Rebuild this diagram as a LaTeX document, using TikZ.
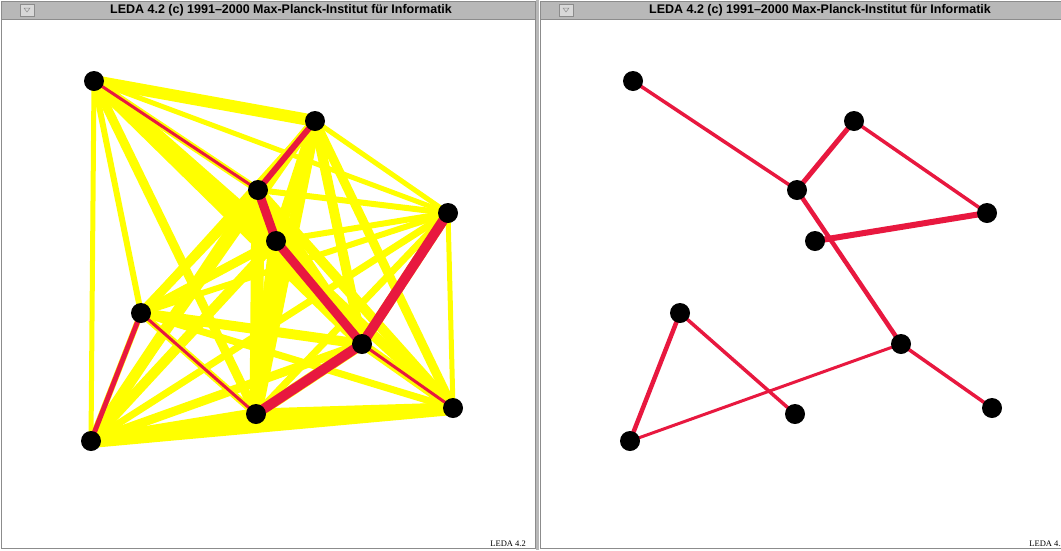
\documentclass[tikz,border=0pt]{standalone}
\usepackage{fontspec}
\setmainfont{Liberation Serif}
\setsansfont{Liberation Sans}
\usepackage{xcolor}
\definecolor{Edge}{HTML}{FFFF00}
\definecolor{Tree}{HTML}{E8183F}
\definecolor{Frame}{HTML}{B8B8B8}
\definecolor{FrameDark}{HTML}{8C8C8C}
\definecolor{Button}{HTML}{D8D8D8}
\usepackage{tikz}
\usetikzlibrary{backgrounds}
\tikzset{
  dot/.style={circle,fill=black,minimum size=20pt,inner sep=0pt},
  edge/.style={draw=Edge},
  tree/.style={draw=Tree},
  title/.style={font=\sffamily\bfseries\fontsize{12.5}{14}\selectfont,text=black,inner sep=0pt},
  tag/.style={font=\fontsize{8.5}{10}\selectfont,text=black,inner sep=1pt},
  bar/.style={fill=Frame,draw=FrameDark,line width=.8pt},
  knob/.style={fill=Button,draw=FrameDark,line width=.6pt}
}

\begin{document}
\begin{tikzpicture}[x=1pt,y=-1pt]
\useasboundingbox (0,0) rectangle (1061,550);
% the ten points, left and right window
\foreach \n/\x/\y in {a/94/81,b/315/121,c/258/190,d/448/213,e/276/241,
                      f/141/313,g/362/344,h/256/414,i/453/408,j/91/441}{
  \node[dot] (l\n) at (\x,\y) {};
  \node[dot] (r\n) at (\x+539,\y) {};
}
% window frames
\begin{scope}[on background layer]
\fill[white] (0,0) rectangle (1061,550);
\foreach \s/\o in {l/0,r/539}{
  \draw[FrameDark,line width=1pt] (\o+1,1) rectangle (\o+535,548);
  \draw[bar] (\o+1,1) rectangle (\o+535,19);
  \draw[knob] (\o+20,4) rectangle (\o+34,16);
  \draw[FrameDark,line width=.5pt] (\o+24,8) -- (\o+30,8) -- (\o+27,12) -- cycle;
  \node[title] (\s title) at (\o+281,10) {LEDA 4.2 (c) 1991--2000 Max-Planck-Institut für Informatik};
  \node[tag,anchor=south east] (\s tag) at (\o+527,548) {LEDA 4.2};
}
\fill[Frame] (536,0) rectangle (539,550);
\end{scope}
% complete graph, left
\begin{scope}[on background layer]
\foreach \u/\v/\w in {a/b/12,a/c/7,a/d/5,a/e/15,a/f/6,a/g/12,a/h/9,a/i/10,a/j/5,
                      b/c/10,b/d/5,b/e/11,b/f/7,b/g/10,b/h/12,b/i/9,b/j/6,
                      c/d/6,c/e/10,c/f/9,c/g/11,c/h/13,c/i/10,c/j/11,
                      d/e/6,d/f/6,d/g/10,d/h/7,d/i/5,d/j/7,
                      e/f/9,e/g/12,e/h/14,e/i/7,e/j/10,
                      f/g/10,f/h/7,f/i/7,f/j/6,
                      g/h/11,g/i/9,g/j/9,
                      h/i/11,h/j/12,i/j/14}
  \draw[edge,line width=\w pt] (l\u.center) -- (l\v.center);
% tree, left
\foreach \u/\v/\w in {a/c/3,b/c/6,c/e/9,e/g/9,d/g/10,g/h/10,g/i/3,f/h/3,f/j/5}
  \draw[tree,line width=\w pt] (l\u.center) -- (l\v.center);
% tree, right
\foreach \u/\v/\w in {a/c/3.5,b/c/5,b/d/3.5,d/e/6,c/g/4.5,g/i/3.5,g/j/3,f/j/4.5,f/h/3.5}
  \draw[tree,line width=\w pt] (r\u.center) -- (r\v.center);
\end{scope}
\end{tikzpicture}
\end{document}
